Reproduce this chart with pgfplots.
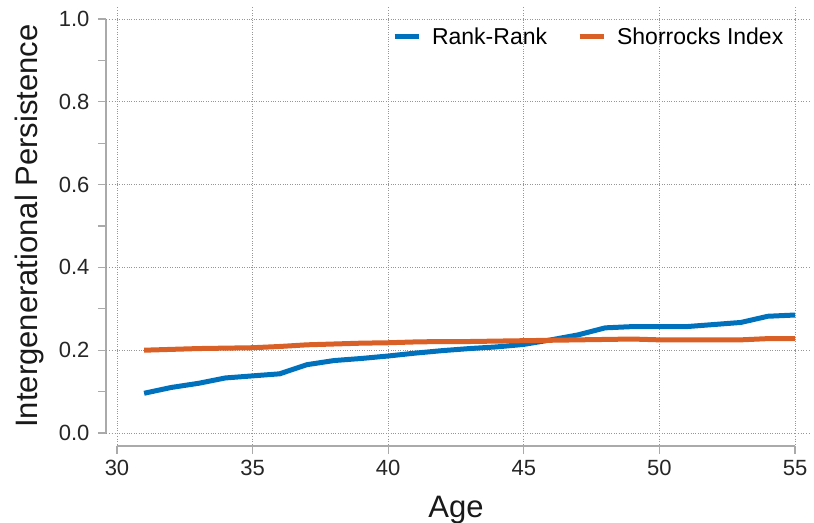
\documentclass[border=0pt]{standalone}
\usepackage{fontspec}
\setmainfont{Liberation Sans}
\usepackage{pgfplots}
\pgfplotsset{compat=1.18}
\definecolor{mblue}{RGB}{0,114,189}
\definecolor{morange}{RGB}{217,96,38}
\definecolor{axgray}{RGB}{170,170,170}
\definecolor{gridgray}{RGB}{150,150,150}
\begin{document}
\begin{tikzpicture}
\begin{axis}[
  scale only axis, width=678pt, height=414pt,
  xmin=30, xmax=55, ymin=0, ymax=1,
  clip=false,
  axis x line*=bottom, axis y line*=left,
  axis x line shift=13pt, axis y line shift=11pt,
  axis line style={-, axgray, line width=1.2pt},
  xtick={30,35,40,45,50,55},
  ytick={0,0.2,0.4,0.6,0.8,1.0},
  minor ytick={0.1,0.3,0.5,0.7,0.9},
  tick align=outside, major tick length=8pt, minor tick length=8pt,
  every tick/.style={axgray, line width=1.2pt},
  every minor tick/.style={axgray, line width=1.2pt},
  xmajorgrids, ymajorgrids,
  major grid style={dotted, gridgray, line width=0.8pt},
  /pgf/number format/assume math mode=true,
  ticklabel style={font=\fontsize{22}{26}\selectfont, text=black!85},
  yticklabel style={/pgf/number format/fixed, /pgf/number format/fixed zerofill, /pgf/number format/precision=1, xshift=-5pt},
  xticklabel style={/pgf/number format/fixed, yshift=-3pt},
  xlabel={Age}, ylabel={Intergenerational Persistence},
  every axis x label/.style={at={(axis description cs:0.5,0)}, anchor=base, yshift=-84pt,
    font=\fontsize{31}{36}\selectfont, text=black!90},
  every axis y label/.style={at={(axis description cs:0,0.5)}, xshift=-88pt, rotate=90, anchor=center,
    font=\fontsize{31}{36}\selectfont, text=black!90},
  legend style={at={(axis cs:54.76,0.99)}, anchor=north east, draw=none, fill=none,
    font=\fontsize{23}{27}\selectfont, legend columns=2,
    /tikz/every even column/.append style={column sep=28pt}},
  legend image code/.code={\draw[#1, line width=5pt] (0pt,0pt) -- (24pt,0pt); \path (33pt,0pt);},
]
\addplot[mblue, line width=5pt] coordinates {
(31,0.096) (32,0.110) (33,0.120) (34,0.133) (35,0.138) (36,0.143) (37,0.165)
(38,0.175) (39,0.180) (40,0.186) (41,0.193) (42,0.199) (43,0.204) (44,0.208)
(45,0.214) (46,0.225) (47,0.237) (48,0.254) (49,0.257) (50,0.257) (51,0.257)
(52,0.262) (53,0.267) (54,0.282) (55,0.285)};
\addlegendentry{Rank-Rank}
\addplot[morange, line width=5pt] coordinates {
(31,0.200) (32,0.202) (33,0.204) (34,0.205) (35,0.206) (36,0.209) (37,0.213)
(38,0.215) (39,0.217) (40,0.218) (41,0.220) (42,0.221) (43,0.221) (44,0.222)
(45,0.223) (46,0.224) (47,0.225) (48,0.226) (49,0.227) (50,0.225) (51,0.225)
(52,0.225) (53,0.225) (54,0.228) (55,0.228)};
\addlegendentry{Shorrocks Index}
\pgfplotsinvokeforeach{30,35,40,45,50,55}{
  \draw[dotted, gridgray, line width=0.8pt] (axis cs:#1,1) -- (axis cs:#1,1.031);
  \draw[dotted, gridgray, line width=0.8pt] (axis cs:#1,0) -- (axis cs:#1,-0.03);
}
\pgfplotsinvokeforeach{0,0.2,0.4,0.6,0.8,1.0}{
  \draw[dotted, gridgray, line width=0.8pt] (axis cs:55,#1) -- (axis cs:55.55,#1);
  \draw[dotted, gridgray, line width=0.8pt] (axis cs:29.6,#1) -- (axis cs:30,#1);
}
\coordinate (bbsw) at (axis cs:25.686,-0.215);
\coordinate (bbne) at (axis cs:55.70,1.0459);
\end{axis}
\pgfresetboundingbox
\path (bbsw) rectangle (bbne);
\end{tikzpicture}
\end{document}
